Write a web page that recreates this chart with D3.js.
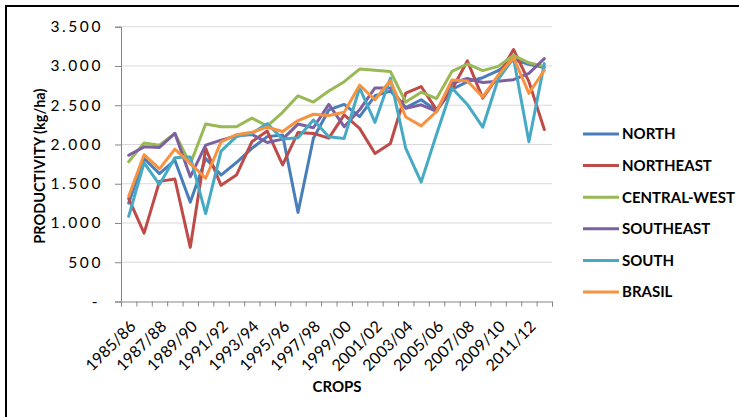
<!DOCTYPE html>
<html>
<head>
<meta charset="utf-8">
<script src="https://cdn.jsdelivr.net/npm/d3@7"></script>
<style>
  html, body { margin: 0; padding: 0; background: #fff; }
  svg { display: block; }
  text { font-family: Lato, "Open Sans", sans-serif; fill: #000; }
</style>
</head>
<body>
<svg id="chart" width="739" height="417"></svg>
<script>
const categories = ["1985/86","1986/87","1987/88","1988/89","1989/90","1990/91","1991/92","1992/93",
  "1993/94","1994/95","1995/96","1996/97","1997/98","1998/99","1999/00","2000/01","2001/02",
  "2002/03","2003/04","2004/05","2005/06","2006/07","2007/08","2008/09","2009/10","2010/11",
  "2011/12","2012/13"];

const north = [1255,1821,1629,1800,1264,1821,1610,1770,1950,2100,2120,1135,2080,2440,2510,2355,2620,2680,2470,2570,2430,2700,2800,2850,2940,3080,3020,2980];
const northeast = [1310,870,1530,1560,690,1950,1480,1610,2034,2171,1740,2154,2141,2080,2376,2205,1885,2013,2655,2738,2440,2700,3064,2590,2870,3210,2800,2190];
const centralWest = [1780,2020,1990,2142,1750,2260,2226,2226,2335,2235,2410,2620,2540,2680,2800,2960,2945,2930,2540,2666,2585,2930,3025,2940,2995,3135,3040,2995];
const southeast = [1863,1970,1962,2142,1588,1991,2055,2110,2128,2025,2068,2260,2213,2510,2227,2442,2720,2720,2460,2505,2420,2780,2840,2790,2805,2825,2905,3094];
const south = [1085,1765,1490,1830,1842,1120,1915,2100,2140,2265,2070,2085,2312,2098,2077,2720,2282,2845,1949,1520,2130,2720,2510,2220,2830,3100,2034,3030];
const brasil = [1340,1870,1690,1940,1760,1570,2034,2125,2155,2220,2165,2305,2385,2370,2410,2755,2570,2815,2350,2237,2420,2822,2808,2605,2880,3108,2650,2945];

const seriesNames = ["NORTH","NORTHEAST","CENTRAL-WEST","SOUTHEAST","SOUTH","BRASIL"];
const seriesValues = [north, northeast, centralWest, southeast, south, brasil];
const seriesColors = ["#4a7ebb","#be4b48","#98b954","#7d60a0","#46aac5","#f69240"];
const yTicks = [0,500,1000,1500,2000,2500,3000,3500];
const xLabelEvery = 2;

const svg = d3.select("#chart");

// outer frame (left/top visible)
svg.append("path")
  .attr("d", "M6,420 L6,6 L745,6")
  .attr("fill", "none").attr("stroke", "#000").attr("stroke-width", 2);

const plotL = 121, plotR = 552, plotT = 26.7, plotB = 301.5;

const x = d3.scaleBand().domain(categories).range([plotL, plotR]).padding(0);
const xEdges = d3.scaleLinear().domain([0, categories.length]).range([plotL, plotR]);
const y = d3.scaleLinear().domain([0, 3500]).range([plotB, plotT]);

// gridlines
svg.append("g").selectAll("line").data(yTicks.filter(d => d > 0)).join("line")
  .attr("x1", plotL).attr("x2", plotR)
  .attr("y1", d => y(d)).attr("y2", d => y(d))
  .attr("stroke", "#d9d9d9").attr("stroke-width", 1);

// y axis
const fmt = v => v === 0 ? "-" : d3.format(",")(v).replace(/,/g, ".");
const yAxis = svg.append("g").attr("transform", `translate(${plotL},0)`)
  .call(d3.axisLeft(y).tickValues(yTicks).tickSize(6).tickPadding(12).tickFormat(fmt));
yAxis.select(".domain").attr("stroke", "#868686");
yAxis.selectAll(".tick line").attr("stroke", "#868686");
yAxis.selectAll(".tick text")
  .attr("font-size", 15.5).attr("letter-spacing", "2.6px")
  .attr("font-family", "Lato, sans-serif").attr("fill", "#000")
  .attr("dx", d => d === 0 ? -3 : 0);

// x axis ticks (between categories)
const xAxis = svg.append("g").attr("transform", `translate(0,${plotB})`)
  .call(d3.axisBottom(xEdges).tickValues(d3.range(categories.length + 1)).tickSize(5).tickFormat(""));
xAxis.select(".domain").attr("stroke", "#868686");
xAxis.selectAll(".tick line").attr("stroke", "#868686");

// x labels
svg.append("g").selectAll("text")
  .data(categories.filter((d, i) => i % xLabelEvery === 0)).join("text")
  .attr("transform", d => `translate(${x(d) + x.bandwidth() / 2 + 8},${plotB + 26}) rotate(-45)`)
  .attr("text-anchor", "end")
  .attr("font-size", 16)
  .text(d => d);

// lines
const line = d3.line().x((d, i) => x(categories[i]) + x.bandwidth() / 2).y(d => y(d));
svg.append("g").selectAll("path").data(seriesValues).join("path")
  .attr("d", d => line(d))
  .attr("fill", "none")
  .attr("stroke", (d, i) => seriesColors[i])
  .attr("stroke-width", 3)
  .attr("stroke-linejoin", "round")
  .attr("stroke-linecap", "round");

// axis titles
svg.append("text")
  .attr("transform", `translate(45,${(plotT + plotB) / 2 + 2}) rotate(-90)`)
  .attr("text-anchor", "middle").attr("font-weight", "bold").attr("font-size", 14.5)
  .text("PRODUCTIVITY (kg/ha)");
svg.append("text")
  .attr("x", 337).attr("y", 392)
  .attr("text-anchor", "middle").attr("font-weight", "bold").attr("font-size", 15)
  .text("CROPS");

// legend
const leg = svg.append("g").selectAll("g").data(seriesNames).join("g")
  .attr("transform", (d, i) => `translate(583,${134 + i * 31.6})`);
leg.append("line").attr("x1", 0).attr("x2", 36).attr("y1", 0).attr("y2", 0)
  .attr("stroke", (d, i) => seriesColors[i]).attr("stroke-width", 3);
const legText = leg.append("text").attr("x", 39).attr("y", 0).attr("dy", "0.36em")
  .attr("font-size", 15).attr("font-weight", "bold")
  .text(d => d);
// fit letter spacing so the widest label spans about 108px
const widest = d3.max(legText.nodes(), n => n.getComputedTextLength());
const longest = d3.max(seriesNames, s => s.length);
const ls = Math.max(0, (108 - widest) / longest);
legText.attr("letter-spacing", ls + "px");
</script>
</body>
</html>
